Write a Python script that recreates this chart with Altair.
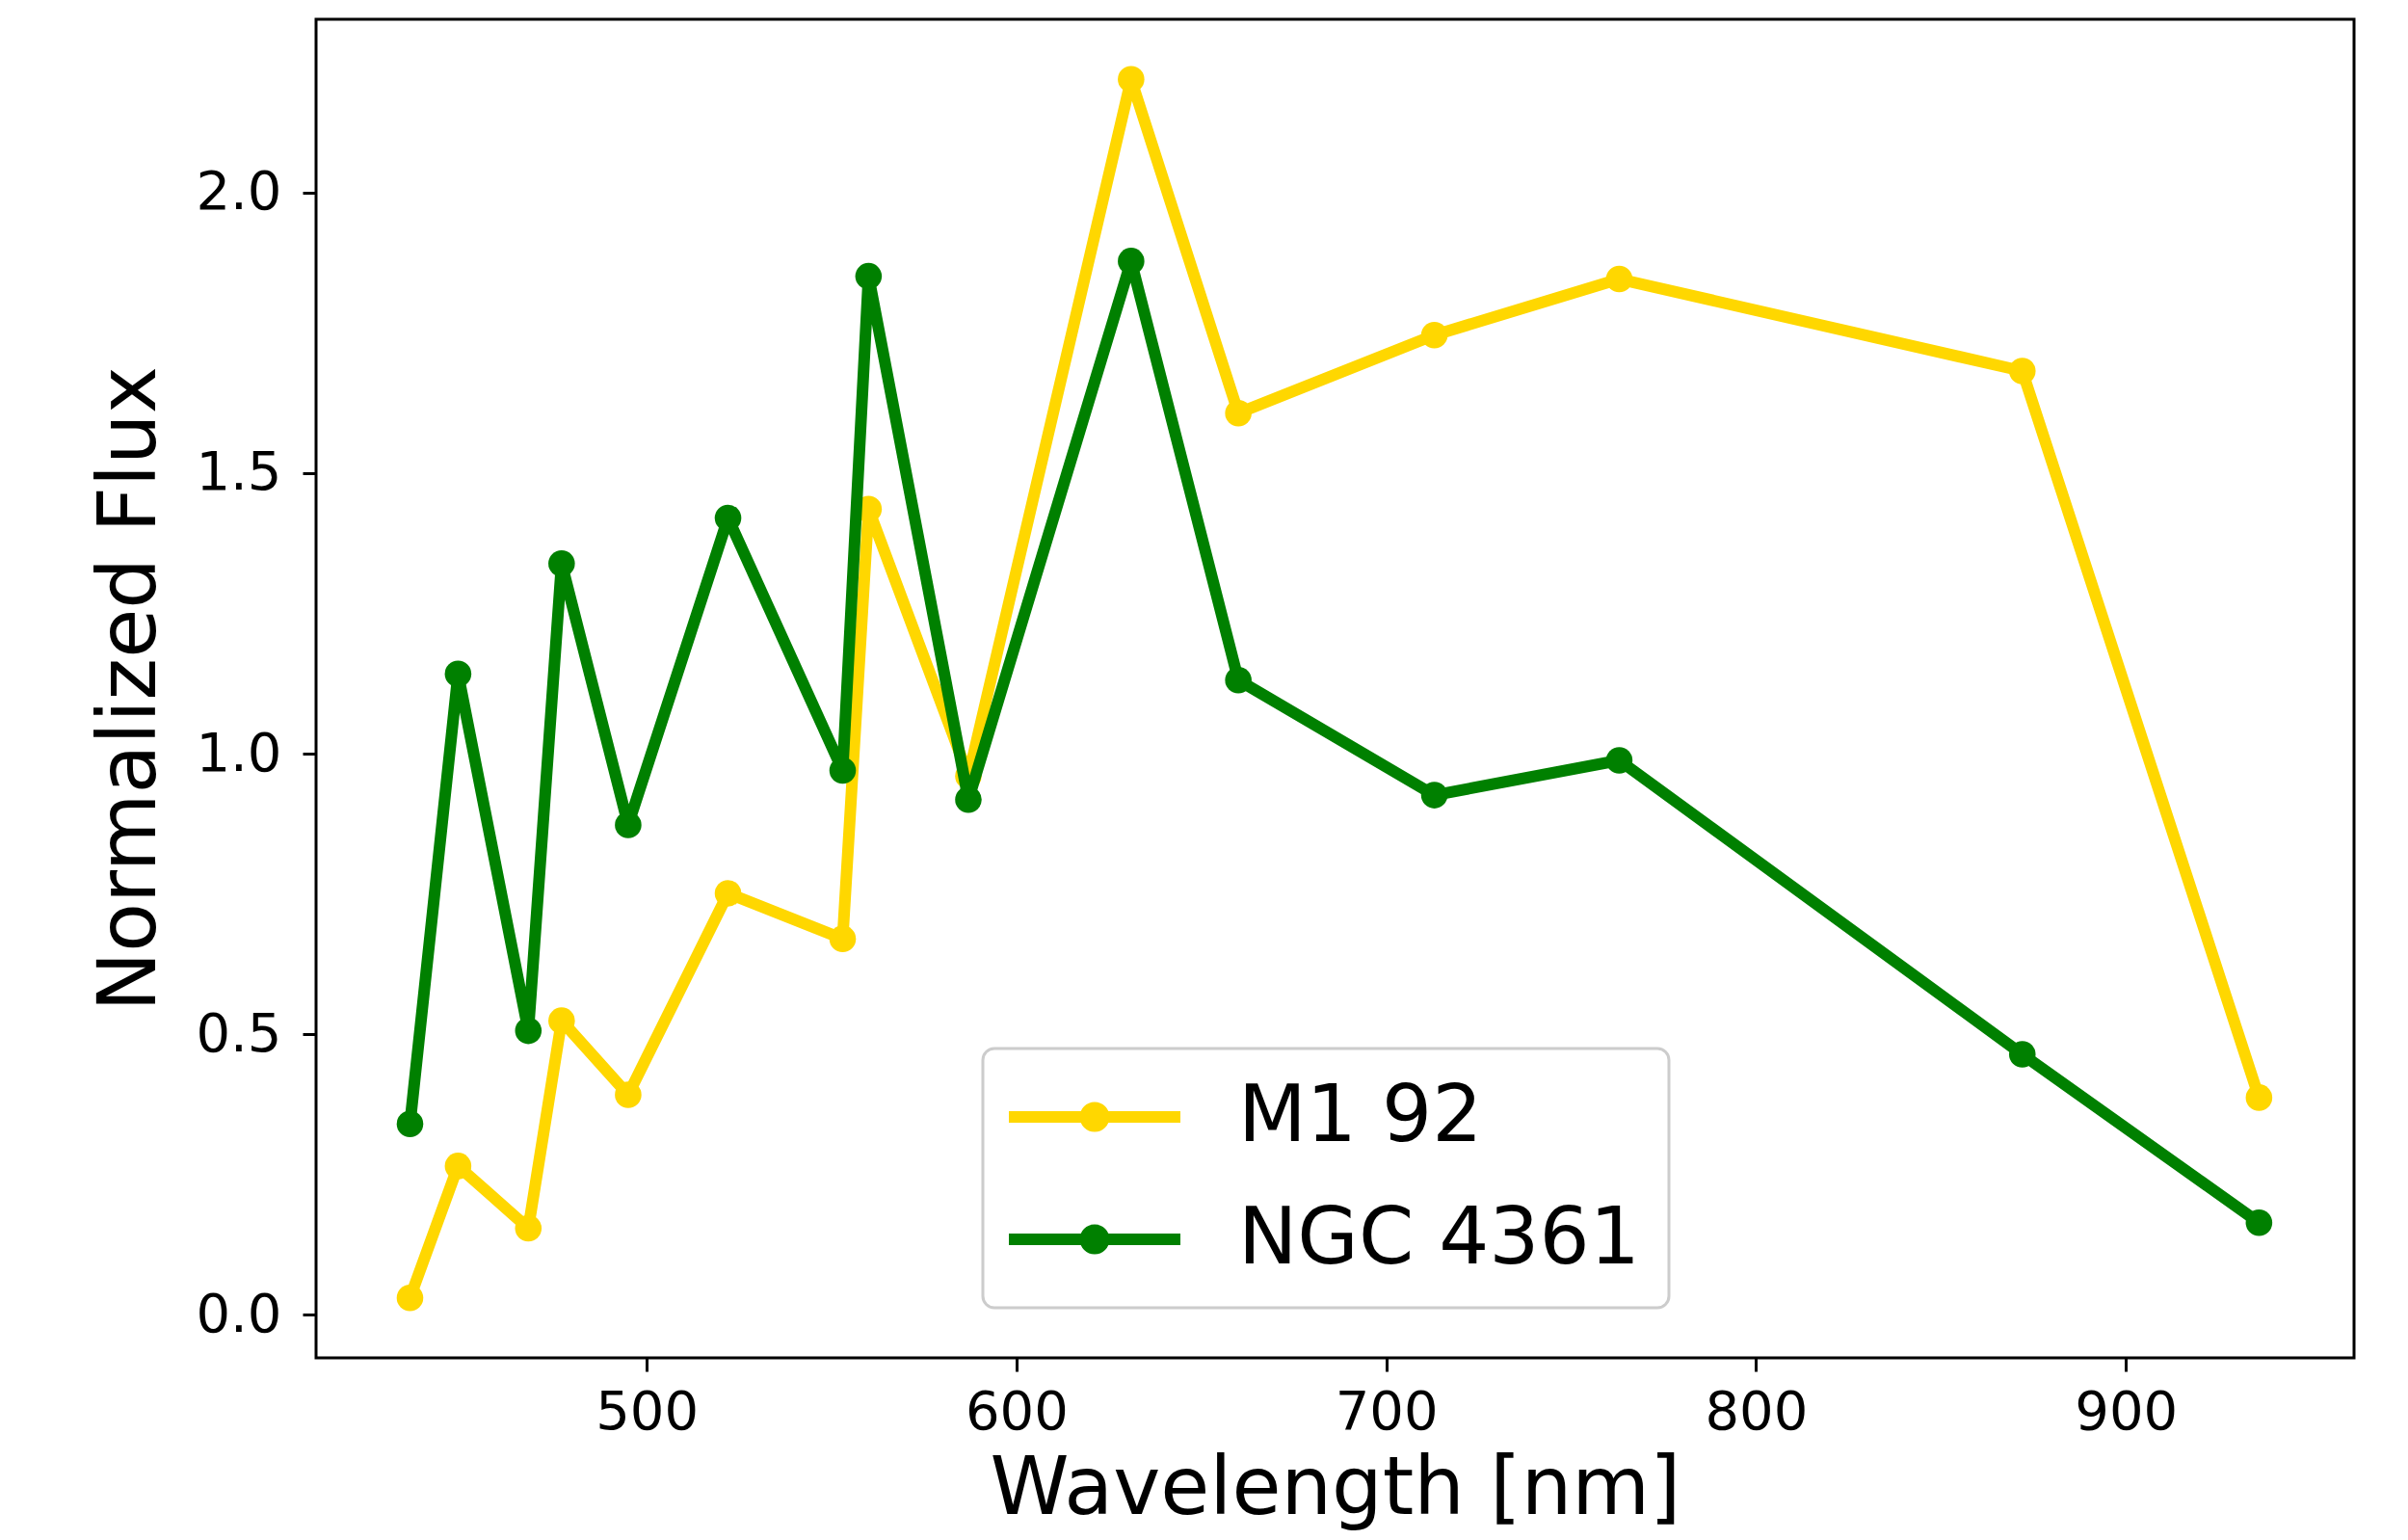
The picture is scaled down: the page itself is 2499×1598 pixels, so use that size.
import altair as alt
import pandas as pd

# ---- data ----
wavelength = [436, 449, 468, 477, 495, 522, 553, 560, 587, 631, 660, 713, 763, 872, 936]
m1_92 = [0.030, 0.265, 0.154, 0.524, 0.392, 0.751, 0.670, 1.436, 0.960, 2.202,
         1.607, 1.746, 1.846, 1.682, 0.387]
ngc4361 = [0.340, 1.142, 0.506, 1.339, 0.873, 1.420, 0.970, 1.851, 0.918, 1.878,
           1.131, 0.926, 0.988, 0.464, 0.164]
series = ["M1 92", "NGC 4361"]
colors = ["#FFD700", "#008000"]
x_ticks = [500, 600, 700, 800, 900]
y_ticks = [0.0, 0.5, 1.0, 1.5, 2.0]

rows = []
for name, vals in zip(series, [m1_92, ngc4361]):
    for w, v in zip(wavelength, vals):
        rows.append({"wavelength": w, "flux": v, "object": name})
df = pd.DataFrame(rows)

FONT = "DejaVu Sans"
W, H = 2115, 1389
LW = 12

# legend symbol: a line with a solid dot (concentric stroked circles)
def circ(r):
    return f"M{r},0A{r},{r},0,1,1,{-r},0A{r},{r},0,1,1,{r},0Z"

legend_path = "M-2.543,0L2.543,0" + circ(0.27) + circ(0.12)

legend = alt.Legend(
    title=None, orient="none", legendX=692, legendY=1068, direction="vertical",
    padding=30, symbolType=legend_path, symbolSize=4900, symbolStrokeWidth=LW,
    symbolOffset=45, labelOffset=108, labelFontSize=82, labelFont=FONT,
    labelColor="black", labelLimit=1000, rowPadding=45,
    fillColor="white", strokeColor="#cccccc", cornerRadius=12,
)

x_enc = alt.X("wavelength:Q",
              scale=alt.Scale(domain=[410.6, 961.7], nice=False, zero=False),
              axis=alt.Axis(values=x_ticks, format="d", title="Wavelength [nm]",
                            titleX=W / 2, titleY=161, titleBaseline="alphabetic",
                            titleAlign="center", labelPadding=15))
y_enc = alt.Y("flux:Q",
              scale=alt.Scale(domain=[-0.077, 2.309], nice=False, zero=False),
              axis=alt.Axis(values=y_ticks, format=".1f", title="Normalized Flux",
                            titleX=-168, titleY=H / 2, titleAngle=270,
                            titleBaseline="alphabetic", titleAlign="center",
                            labelPadding=22))
color_line = alt.Color("object:N",
                       scale=alt.Scale(domain=series, range=colors), legend=legend)
color_pt = alt.Color("object:N",
                     scale=alt.Scale(domain=series, range=colors), legend=None)

layers = []
for name in series:
    base = alt.Chart(df).transform_filter(alt.datum.object == name)
    layers.append(base.mark_line(strokeWidth=LW, strokeJoin="round", strokeCap="square")
                  .encode(x=x_enc, y=y_enc, color=color_line, order="wavelength:Q"))
    layers.append(base.mark_circle(size=760, opacity=1)
                  .encode(x=x_enc, y=y_enc, color=color_pt))

chart = (
    alt.layer(*layers)
    .properties(width=W, height=H,
                autosize=alt.AutoSizeParams(type="none"),
                padding={"left": 320, "top": 12, "right": 40, "bottom": 181},
                background="white")
    .configure_view(stroke="black", strokeWidth=3)
    .configure_axis(labelFont=FONT, titleFont=FONT, labelFontSize=56,
                    titleFontSize=83, titleFontWeight="normal", labelColor="black",
                    titleColor="black", tickColor="black", tickWidth=3, tickSize=14,
                    domain=False, grid=False)
    .configure_legend(strokeWidth=3)
)

chart.save("out.html", embed_options={"renderer": "svg", "actions": False})
